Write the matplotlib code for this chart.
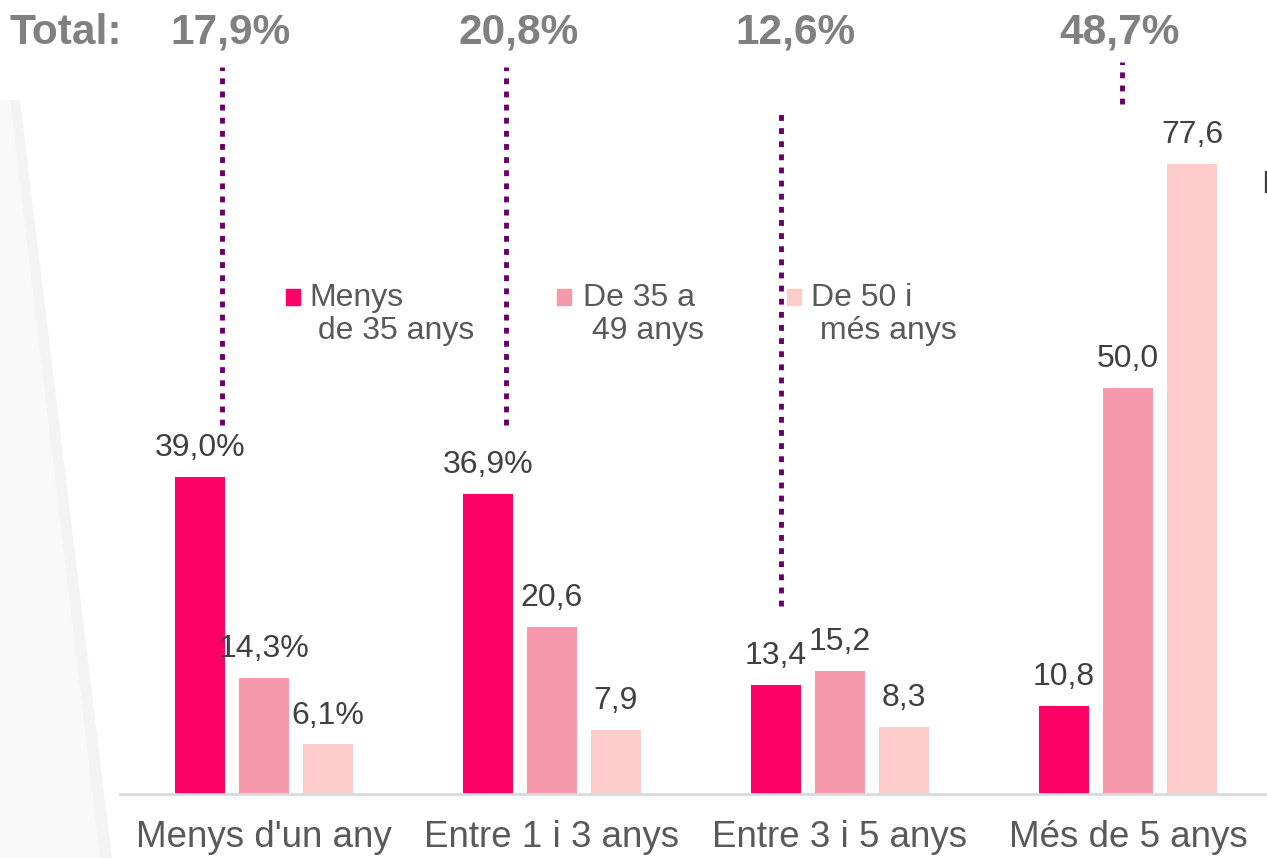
import numpy as np
import matplotlib.pyplot as plt
from matplotlib.patches import Polygon, Rectangle

plt.rcParams['font.family'] = ['Liberation Sans', 'DejaVu Sans']

# Dades
categories = ["Menys d'un any", "Entre 1 i 3 anys", "Entre 3 i 5 anys", "Més de 5 anys"]
series_names = ["Menys\n de 35 anys", "De 35 a\n 49 anys", "De 50 i\n més anys"]
menys35 = [39.0, 36.9, 13.4, 10.8]
de35a49 = [14.3, 20.6, 15.2, 50.0]
de50 = [6.1, 7.9, 8.3, 77.6]
# etiquetes amb signe de percentatge (sèrie, categoria)
with_pct = [(0, 0), (1, 0), (2, 0), (0, 1)]
totals = ["17,9%", "20,8%", "12,6%", "48,7%"]

colors = ["#FF0066", "#F799AC", "#FFCCCC"]
W, H = 1267, 858

fig = plt.figure(figsize=(W / 100, H / 100), dpi=100)

# fons tènue a l'esquerra
fig.patches.append(Polygon([(0, 1 - 100 / H), (10 / W, 1 - 100 / H), (100 / W, 0), (0, 0)],
                           closed=True, transform=fig.transFigure, color="#F9F9F9",
                           figure=fig, zorder=0, lw=0))
fig.patches.append(Polygon([(10 / W, 1 - 100 / H), (20 / W, 1 - 100 / H), (112 / W, 0), (100 / W, 0)],
                           closed=True, transform=fig.transFigure, color="#F3F3F3",
                           figure=fig, zorder=0, lw=0))

ax = fig.add_axes([120 / W, 1 - 794 / H, 1152 / W, 794 / H])
ax.patch.set_alpha(0)

x = np.arange(len(categories))
width = 50 / 288
step = 64 / 288
for i, vals in enumerate([menys35, de35a49, de50]):
    xs = x + (i - 1) * step
    ax.bar(xs, vals, width, color=colors[i], zorder=2)
    for j, (xx, v) in enumerate(zip(xs, vals)):
        txt = f"{v:.1f}".replace(".", ",")
        if (i, j) in with_pct:
            txt += "%"
        ax.annotate(txt, (xx, v), xytext=(0, 10), textcoords="offset points",
                    ha="center", va="bottom", fontsize=23, color="#404040")

ax.set_xlim(-0.5, 3.5)
ax.set_ylim(0, 794 / 8.12)
ax.set_xticks(x)
ax.set_xticklabels(categories, fontsize=26.5, color="#595959")
ax.tick_params(axis="x", length=0, pad=19)
ax.set_yticks([])
for s in ["left", "right", "top"]:
    ax.spines[s].set_visible(False)
ax.spines["bottom"].set_color("#D9D9D9")
ax.spines["bottom"].set_linewidth(2)

# Línies de punts dels totals
line_x = [-0.146, 0.840, 1.795, 2.979]
line_top = [89.5, 89.5, 84.5, 90.1]
line_bottom = [45.4, 45.4, 23.2, 85.0]
for lx, top, bot in zip(line_x, line_top, line_bottom):
    ax.plot([lx, lx], [bot, top], color="#660066", lw=3.5,
            dashes=(1.2, 1.5), solid_capstyle="butt", zorder=1)

# Totals
total_x = [-0.115, 0.885, 1.847, 2.972]
for tx, t in zip(total_x, totals):
    ax.text(tx, (794 - 33) / 8.12, t, ha="center", va="center",
            fontsize=30.5, fontweight="bold", color="#808080")
fig.text(10 / W, 1 - 33 / H, "Total:", ha="left", va="center",
         fontsize=30.5, fontweight="bold", color="#808080")

# Llegenda
sq_x = [286, 557, 787]
txt_x = [309, 583, 811]
for sx, tx, c, name in zip(sq_x, txt_x, colors, series_names):
    fig.patches.append(Rectangle((sx / W, 1 - 305 / H), 14 / W, 16 / H,
                                 transform=fig.transFigure, color=c, figure=fig))
    fig.text(tx / W, 1 - 283 / H, name, ha="left", va="top", fontsize=23,
             color="#595959", linespacing=1.12)

fig.text(1261 / W, 1 - 185 / H, "I", ha="left", va="center", fontsize=22, color="#404040")

fig.savefig("out.png", dpi=100)
